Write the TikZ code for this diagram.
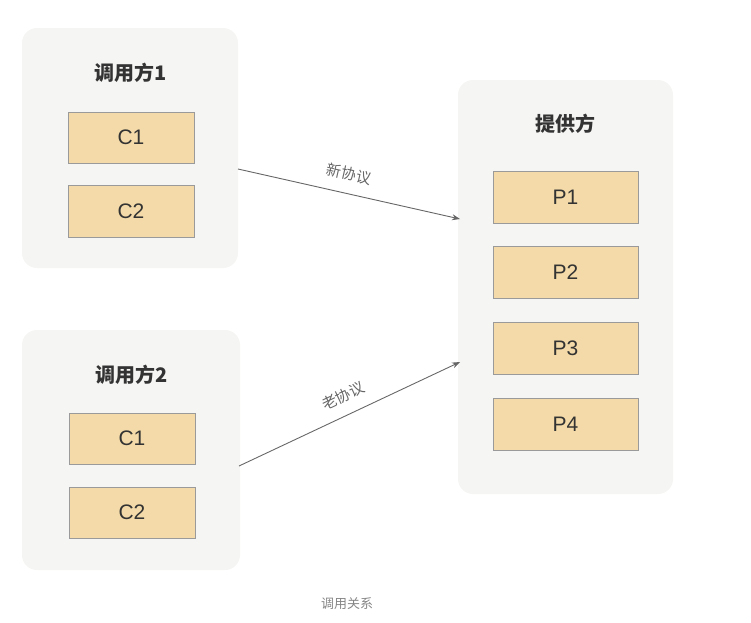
\documentclass[tikz,border=0pt]{standalone}
\usepackage{fontspec}
\setmainfont{Liberation Sans}
\newfontfamily\cjk{Noto Sans CJK SC}
\usetikzlibrary{arrows.meta}
\definecolor{panelbg}{HTML}{F5F5F3}
\definecolor{boxfill}{HTML}{F3DAA8}
\definecolor{boxline}{HTML}{9A9A9A}
\definecolor{txt}{HTML}{333333}
\definecolor{arrowc}{HTML}{666666}
\tikzset{
  panel/.style={fill=panelbg, draw=none, rounded corners=15pt},
  item/.style={fill=boxfill, draw=boxline, line width=0.8pt, text=txt, font=\fontsize{21}{24}\selectfont},
  title/.style={text=txt, font=\cjk\bfseries\fontsize{20}{24}\selectfont},
  conn/.style={draw=arrowc, line width=0.9pt, -{Stealth[length=8pt,width=6pt]}},
  lab/.style={text=arrowc, font=\cjk\fontsize{15}{18}\selectfont, inner sep=1pt},
}
\begin{document}
\begin{tikzpicture}[x=1pt,y=-1pt]
\useasboundingbox (0,0) rectangle (751,622);
% panels
\path[panel] (22,28) rectangle (238,268);
\path[panel] (22,330) rectangle (240,570);
\path[panel] (458,80) rectangle (673,494);
\coordinate (pan1e) at (238,169);
\coordinate (pan2e) at (239,466);
\coordinate (provw1) at (460,219);
\coordinate (provw2) at (460,362);
% titles
\node[title] (t1) at (131,73) {调用方1};
\node[title] (t2) at (132,375) {调用方2};
\node[title] (t3) at (565,124) {提供方};
% items
\node[item, minimum width=126pt, minimum height=51pt] (a1) at (131,137.5) {C1};
\node[item, minimum width=126pt, minimum height=52pt] (a2) at (131,211) {C2};
\node[item, minimum width=126pt, minimum height=51pt] (b1) at (132,438.5) {C1};
\node[item, minimum width=126pt, minimum height=51pt] (b2) at (132,512.5) {C2};
\node[item, minimum width=145pt, minimum height=52pt] (p1) at (565.5,197) {P1};
\node[item, minimum width=145pt, minimum height=52pt] (p2) at (565.5,272) {P2};
\node[item, minimum width=145pt, minimum height=52pt] (p3) at (565.5,348) {P3};
\node[item, minimum width=145pt, minimum height=52pt] (p4) at (565.5,424) {P4};
% connectors
\draw[conn] (pan1e) -- (provw1);
\draw[conn] (pan2e) -- (provw2);
\node[lab, rotate=-12.7] (l1) at (349,174) {新协议};
\node[lab, rotate=25.2] (l2) at (343,396) {老协议};
% caption
\node[text=arrowc!80, font=\cjk\fontsize{13}{15}\selectfont] (cap) at (347,604) {调用关系};
\end{tikzpicture}
\end{document}
